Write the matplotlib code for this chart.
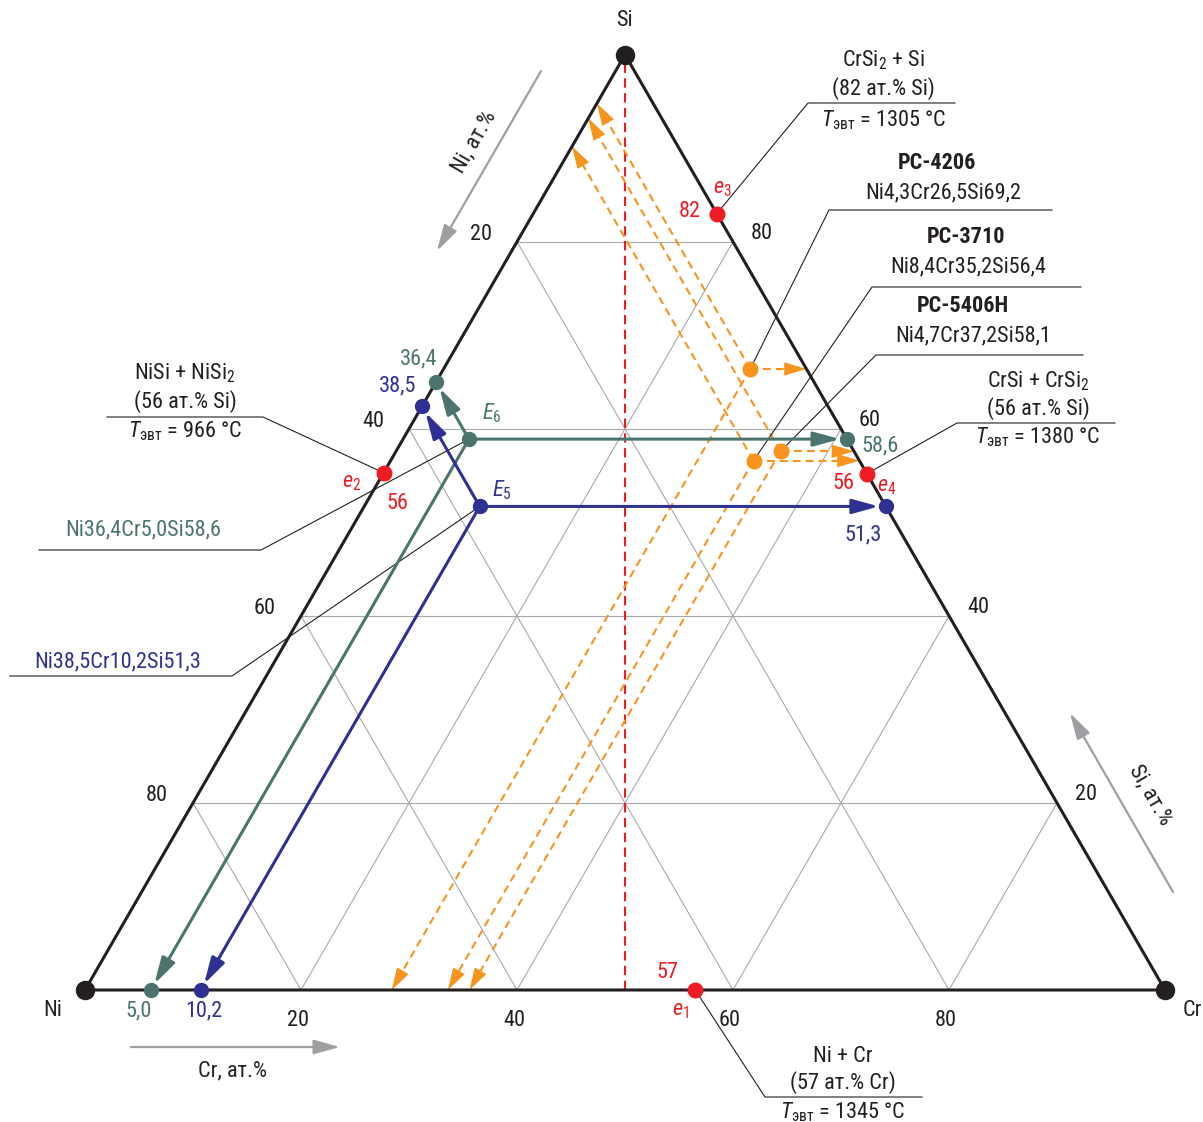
import numpy as np
import matplotlib
matplotlib.use("Agg")
import matplotlib.pyplot as plt
from matplotlib import font_manager as fm


def pick_family():
    # узкий гротеск, как в оригинале; нужен обычный, жирный и курсив
    faces = {}
    for f in fm.fontManager.ttflist:
        faces.setdefault(f.name, set()).add((f.style, int(f.weight)))
    for fam in ['Roboto Condensed', 'IBM Plex Sans Condensed', 'Barlow Semi Condensed']:
        s = faces.get(fam, set())
        if ('normal', 400) in s and ('normal', 700) in s and ('italic', 400) in s:
            return fam
    return 'DejaVu Sans'


FAM = pick_family()
plt.rcParams['font.family'] = [FAM, 'DejaVu Sans']
plt.rcParams['mathtext.fontset'] = 'custom'
plt.rcParams['mathtext.rm'] = FAM
plt.rcParams['mathtext.it'] = FAM + ':italic'
plt.rcParams['mathtext.bf'] = FAM + ':bold'

BLACK = '#231f20'
GRID = '#a7a9ac'
GRAY = '#9d9fa2'
RED = '#ed1c24'
ORANGE = '#f7941d'
GREEN = '#4b746f'
BLUE = '#2e3192'

# линии сетки / подписи шкал, ат.%
grid_vals = [20, 40, 60, 80]
tick_labels = ['20', '40', '60', '80']

# двойные эвтектики e1..e4 (положение на диаграмме), ат.%
e_cr = [56.5, 0.0, 17.0, 44.8]
e_si = [0.0, 55.3, 83.0, 55.2]
e_values = ['57', '56', '82', '56']

# тройные эвтектики E6 и E5
E_cr = [6.1, 10.7]
E_si = [58.9, 51.7]
E_colors = [GREEN, BLUE]
E_proj_text = [['36,4', '5,0', '58,6'], ['38,5', '10,2', '51,3']]
E_comp = ['Ni36,4Cr5,0Si58,6', 'Ni38,5Cr10,2Si51,3']

# сплавы РС
pc_names = ['РС-4206', 'РС-3710', 'РС-5406Н']
pc_comp = ['Ni4,3Cr26,5Si69,2', 'Ni8,4Cr35,2Si56,4', 'Ni4,7Cr37,2Si58,1']
pc_cr = [28.4, 33.6, 35.6]
pc_si = [66.4, 56.6, 57.6]

W, H = 1203, 1122
X0, Y0, SIDE = 85.0, 990.0, 1080.0
FS = 16


def tern(cr, si):
    # (Cr, Si) ат.% -> координаты рисунка
    x = X0 + SIDE * (cr + si / 2.0) / 100.0
    y = Y0 - SIDE * np.sqrt(3) / 2.0 * si / 100.0
    return np.array([x, y])


def seg(p, q, **kw):
    ax.plot([p[0], q[0]], [p[1], q[1]], **kw)


def txt(x, y, s, color=BLACK, size=FS, **kw):
    kw.setdefault('ha', 'center')
    kw.setdefault('va', 'center')
    ax.text(x, y, s, color=color, fontsize=size, **kw)


def arrow(p, q, color, lw, shrink=0, z=4):
    ax.annotate('', xy=q, xytext=p, zorder=z,
                arrowprops=dict(arrowstyle='-|>,head_length=0.8,head_width=0.22',
                                mutation_scale=20, color=color, lw=lw,
                                shrinkA=0, shrinkB=shrink))


def dashed_arrow(p, q, color):
    d = (q - p) / np.hypot(*(q - p))
    seg(p, q - d * 10, color=color, lw=1.5, ls=(0, (3.8, 2.4)), zorder=3)
    ax.annotate('', xy=q, xytext=q - d * 24, zorder=3,
                arrowprops=dict(arrowstyle='-|>,head_length=0.8,head_width=0.24',
                                mutation_scale=20, color=color, lw=0,
                                shrinkA=0, shrinkB=0))


fig = plt.figure(figsize=(W / 100, H / 100), dpi=100)
ax = fig.add_axes([0, 0, 1, 1])
ax.set_xlim(0, W)
ax.set_ylim(H, 0)
ax.axis('off')

# сетка
for v in grid_vals:
    seg(tern(0, v), tern(100 - v, v), color=GRID, lw=0.8, zorder=1)
    seg(tern(v, 0), tern(v, 100 - v), color=GRID, lw=0.8, zorder=1)
    seg(tern(0, v), tern(v, 0), color=GRID, lw=0.8, zorder=1)

# подписи шкал
for v, t in zip(grid_vals, tick_labels):
    p = tern(v, 0)
    txt(p[0] - 3, p[1] + 30, t)
    p = tern(0, 100 - v)
    txt(p[0] - 36, p[1] - 7, t)
    p = tern(100 - v, v)
    txt(p[0] + 29, p[1] - 8, t)

# медиана Si - (Ni=Cr)
seg(tern(50, 0), tern(0, 100), color=RED, lw=1.5, ls=(0, (4.5, 2.6)), zorder=2)

# сплавы РС: проекции на стороны
for cr, si in zip(pc_cr, pc_si):
    p = tern(cr, si)
    dashed_arrow(p, tern(100 - si, si), ORANGE)
    dashed_arrow(p, tern(cr, 0), ORANGE)
    dashed_arrow(p, tern(0, cr + si), ORANGE)
ax.plot(*tern(np.array(pc_cr), np.array(pc_si)), 'o', ms=10.5, color=ORANGE, zorder=6)

# выноски
leaders = [
    ((808, 103), (955, 103), tern(e_cr[2], e_si[2])),
    ((829, 210), (1052, 210), tern(pc_cr[0], pc_si[0])),
    ((872, 287), (1081, 287), tern(pc_cr[1], pc_si[1])),
    ((876, 355), (1083, 355), tern(pc_cr[2], pc_si[2])),
    ((957, 423), (1115, 423), tern(e_cr[3], e_si[3])),
    ((263, 417), (107, 417), tern(e_cr[1], e_si[1])),
    ((261, 550), (39, 550), tern(E_cr[0], E_si[0])),
    ((232, 676), (10, 676), tern(E_cr[1], E_si[1])),
    ((765, 1097), (922, 1097), tern(e_cr[0], e_si[0])),
]
for a, b, p in leaders:
    ax.plot([p[0], a[0], b[0]], [p[1], a[1], b[1]], color=BLACK, lw=0.8, zorder=3)

# тройные эвтектики и их проекции
for cr, si, c in zip(E_cr, E_si, E_colors):
    p = tern(cr, si)
    targets = [tern(0, cr + si), tern(cr, 0), tern(100 - si, si)]
    for q in targets:
        arrow(p, q, c, 2.2, shrink=5)
    pts = np.array([p] + targets)
    ax.plot(pts[:, 0], pts[:, 1], 'o', ms=10, color=c, lw=0, zorder=6)

# стороны треугольника
tri = np.array([tern(0, 0), tern(100, 0), tern(0, 100), tern(0, 0)])
ax.plot(tri[:, 0], tri[:, 1], color=BLACK, lw=2.2, zorder=5, solid_joinstyle='round')
ax.plot(tri[:3, 0], tri[:3, 1], 'o', ms=13, color=BLACK, zorder=7)

# двойные эвтектики
ax.plot(*tern(np.array(e_cr), np.array(e_si)), 'o', ms=10.5, color=RED, lw=0, zorder=7)

# вершины
txt(624, 20, 'Si')
txt(53, 1010, 'Ni')
txt(1202, 1010, 'Cr', ha='right')

# стрелки осей
arrow(np.array([541, 71]), np.array([437, 251]), GRAY, 1.6, z=2)
arrow(np.array([1173, 892]), np.array([1070, 713]), GRAY, 1.6, z=2)
arrow(np.array([131, 1047]), np.array([340, 1047]), GRAY, 1.6, z=2)
txt(474, 142, 'Ni, ат.%', rotation=60)
txt(1150, 795, 'Si, ат.%', rotation=-60)
txt(232, 1071, 'Cr, ат.%')

# подписи эвтектик
txt(883, 60, r'CrSi$_2$ + Si')
txt(883, 89, '(82 ат.% Si)')
txt(884, 120, r'$T_{\mathrm{эвт}}$ = 1305 °C')

txt(1038, 381, r'CrSi + CrSi$_2$')
txt(1038, 409, '(56 ат.% Si)')
txt(1038, 437, r'$T_{\mathrm{эвт}}$ = 1380 °C')

txt(185, 373, r'NiSi + NiSi$_2$')
txt(185, 402, '(56 ат.% Si)')
txt(185, 431, r'$T_{\mathrm{эвт}}$ = 966 °C')

txt(843, 1056, 'Ni + Cr')
txt(843, 1083, '(57 ат.% Cr)')
txt(843, 1112, r'$T_{\mathrm{эвт}}$ = 1345 °C')

# сплавы
pc_pos = [((937, 163), (943, 193)), ((966, 237), (968, 267)), ((963, 306), (973, 336))]
for name, comp, (a, b) in zip(pc_names, pc_comp, pc_pos):
    txt(a[0], a[1], name, fontweight='bold')
    txt(b[0], b[1], comp)

# составы тройных эвтектик
txt(143, 530, E_comp[0], color=GREEN)
txt(118, 662, E_comp[1], color=BLUE)

# значения проекций
proj_pos = [[(419, 359), (139, 1011), (880, 446)], [(398, 386), (204, 1011), (863, 535)]]
for texts, pos, c in zip(E_proj_text, proj_pos, E_colors):
    for t, (x, y) in zip(texts, pos):
        txt(x, y, t, color=c)
txt(492, 413, r'$E_6$', color=GREEN)
txt(502, 490, r'$E_5$', color=BLUE)

# e1..e4
e_val_pos = [(667, 972), (397, 503), (690, 211), (843, 483)]
e_name_pos = [(680, 1010), (352, 482), (722, 188), (887, 486)]
for i in range(4):
    txt(*e_val_pos[i], e_values[i], color=RED)
    txt(*e_name_pos[i], r'$e_%d$' % (i + 1), color=RED)

fig.savefig('out.png', dpi=100, facecolor='white')
